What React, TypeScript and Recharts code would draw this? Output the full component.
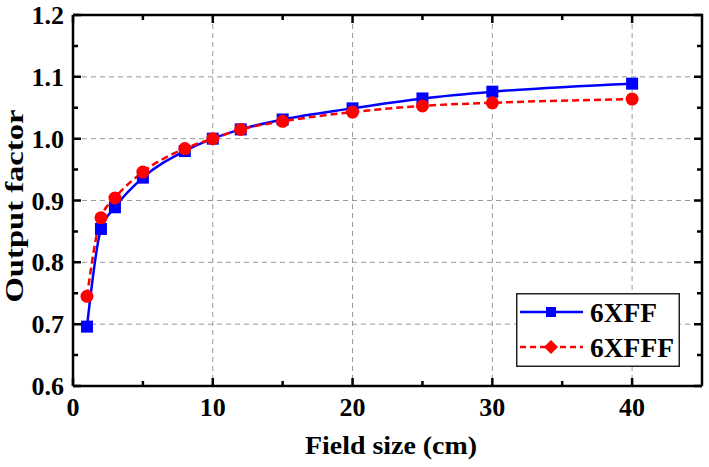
import { LineChart, Line, XAxis, YAxis, ReferenceLine, Legend } from "recharts";

const fieldSize = [1, 2, 3, 5, 8, 10, 12, 15, 20, 25, 30, 40];
const of6XFF = [0.696, 0.854, 0.889, 0.937, 0.98, 1.0, 1.015, 1.031, 1.049, 1.065, 1.076, 1.089];
const of6XFFF = [0.745, 0.872, 0.904, 0.946, 0.984, 1.0, 1.015, 1.028, 1.043, 1.053, 1.058, 1.064];

const xTicks = [0, 5, 10, 15, 20, 25, 30, 35, 40];
const yTicks = [0.6, 0.65, 0.7, 0.75, 0.8, 0.85, 0.9, 0.95, 1.0, 1.05, 1.1, 1.15, 1.2];
const X_MAX = 45;
const Y_MIN = 0.6;
const Y_MAX = 1.2;

const data = fieldSize.map((x, i) => ({ x, a: of6XFF[i], b: of6XFFF[i] }));

const FONT = '"Liberation Serif", "Times New Roman", serif';
const BLUE = "#0000ff";
const RED = "#ff0000";

// chart layout
const W = 709;
const H = 467;
const M_TOP = 15;
const M_RIGHT = 7;
const Y_AXIS_W = 73;
const X_AXIS_H = 81;
const PLOT_W = W - Y_AXIS_W - M_RIGHT;
const PLOT_H = H - M_TOP - X_AXIS_H;

const isMajorX = (v: number) => v % 10 === 0;
const isMajorY = (v: number) => Math.round(v * 100) % 10 === 0;

function BottomLabel({ x, y, payload }: any) {
  if (!isMajorX(payload.value)) return <g />;
  return (
    <text x={x} y={y + 30} textAnchor="middle" fontFamily={FONT} fontWeight="bold" fontSize={26} fill="#000">
      {payload.value}
    </text>
  );
}

function LeftLabel({ x, y, payload }: any) {
  if (!isMajorY(payload.value)) return <g />;
  return (
    <text x={x - 9} y={y + 9} textAnchor="end" fontFamily={FONT} fontWeight="bold" fontSize={26} fill="#000">
      {payload.value.toFixed(1)}
    </text>
  );
}

// grid line (major, inner) + inward ticks at both ends of the plot
function xTickShape(v: number) {
  return (p: any) => {
    const major = isMajorX(v);
    const len = major ? 8 : 5;
    const top = Math.min(p.y1, p.y2);
    const bot = Math.max(p.y1, p.y2);
    const x = p.x1;
    return (
      <g>
        {major && v > 0 && (
          <line x1={x} x2={x} y1={top} y2={bot} stroke="#999" strokeWidth={1} strokeDasharray="5 4" />
        )}
        <path d={`M${x},${top}V${top + len}M${x},${bot}V${bot - len}`} stroke="#000" strokeWidth={2.5} fill="none" />
      </g>
    );
  };
}

function yTickShape(v: number) {
  return (p: any) => {
    const major = isMajorY(v);
    const len = major ? 8 : 5;
    const left = Math.min(p.x1, p.x2);
    const right = Math.max(p.x1, p.x2);
    const y = p.y1;
    const inner = v > Y_MIN + 0.01 && v < Y_MAX - 0.01;
    return (
      <g>
        {major && inner && (
          <line x1={left} x2={right} y1={y} y2={y} stroke="#999" strokeWidth={1} strokeDasharray="5 4" />
        )}
        <path d={`M${left},${y}H${left + len}M${right},${y}H${right - len}`} stroke="#000" strokeWidth={2.5} fill="none" />
      </g>
    );
  };
}

function SquareDot(p: any) {
  return <rect key={`sq-${p.index}`} x={p.cx - 6} y={p.cy - 6} width={12} height={12} fill={BLUE} />;
}

function LegendBox() {
  return (
    <svg width={164} height={74}>
      <rect x={0.75} y={0.75} width={162.5} height={72.5} fill="#fff" stroke="#222" strokeWidth={1.5} />
      <line x1={4} x2={67} y1={19} y2={19} stroke={BLUE} strokeWidth={2.5} />
      <rect x={30} y={14} width={10} height={10} fill={BLUE} />
      <text x={74} y={29} fontFamily={FONT} fontWeight="bold" fontSize={27} textLength={67} lengthAdjust="spacingAndGlyphs">
        6XFF
      </text>
      <line x1={4} x2={67} y1={54} y2={54} stroke={RED} strokeWidth={2.5} strokeDasharray="6 4" />
      <polygon points="35,47 42,54 35,61 28,54" fill={RED} />
      <text x={74} y={64} fontFamily={FONT} fontWeight="bold" fontSize={27} textLength={84} lengthAdjust="spacingAndGlyphs">
        6XFFF
      </text>
    </svg>
  );
}

export default function App() {
  return (
    <div style={{ position: "absolute", left: 0, top: 0, background: "#fff" }}>
      <LineChart width={W} height={H} data={data} margin={{ top: M_TOP, right: M_RIGHT, bottom: 0, left: 0 }}>
        <XAxis
          dataKey="x"
          type="number"
          domain={[0, X_MAX]}
          ticks={xTicks}
          interval={0}
          allowDataOverflow
          tick={<BottomLabel />}
          tickLine={false}
          tickSize={0}
          tickMargin={0}
          height={X_AXIS_H}
          axisLine={{ stroke: "#000", strokeWidth: 2.5 }}
        />
        <YAxis
          type="number"
          domain={[Y_MIN, Y_MAX]}
          ticks={yTicks}
          interval={0}
          allowDataOverflow
          tick={<LeftLabel />}
          tickLine={false}
          tickSize={0}
          tickMargin={0}
          width={Y_AXIS_W}
          axisLine={{ stroke: "#000", strokeWidth: 2.5 }}
        />
        {xTicks.map((v) => (
          <ReferenceLine key={`tx-${v}`} x={v} ifOverflow="visible" shape={xTickShape(v)} />
        ))}
        {yTicks.map((v) => (
          <ReferenceLine key={`ty-${v}`} y={v} ifOverflow="visible" shape={yTickShape(v)} />
        ))}
        <Line
          dataKey="a"
          name="6XFF"
          type="monotone"
          stroke={BLUE}
          strokeWidth={2.5}
          dot={SquareDot}
          activeDot={false}
          isAnimationActive={false}
        />
        <Line
          dataKey="b"
          name="6XFFF"
          type="monotone"
          stroke={RED}
          strokeWidth={2.5}
          strokeDasharray="7 4"
          dot={{ r: 6.5, fill: RED, stroke: RED, strokeWidth: 0, strokeDasharray: "" }}
          activeDot={false}
          isAnimationActive={false}
        />
        <Legend
          layout="vertical"
          align="center"
          verticalAlign="middle"
          content={<LegendBox />}
          wrapperStyle={{ position: "absolute", left: 516, top: 293, width: 164, height: 74 }}
        />
        {/* plot frame (top and right sides; left/bottom come from the axes) */}
        <path
          d={`M${Y_AXIS_W},${M_TOP}H${Y_AXIS_W + PLOT_W}V${M_TOP + PLOT_H}`}
          fill="none"
          stroke="#000"
          strokeWidth={2.5}
        />
        <text
          x={391}
          y={454}
          textAnchor="middle"
          fontFamily={FONT}
          fontWeight="bold"
          fontSize={26}
          textLength={172}
          lengthAdjust="spacingAndGlyphs"
        >
          Field size (cm)
        </text>
        <text
          transform="translate(23, 206) rotate(-90)"
          textAnchor="middle"
          fontFamily={FONT}
          fontWeight="bold"
          fontSize={25}
          textLength={193}
          lengthAdjust="spacingAndGlyphs"
        >
          Output factor
        </text>
      </LineChart>
    </div>
  );
}
